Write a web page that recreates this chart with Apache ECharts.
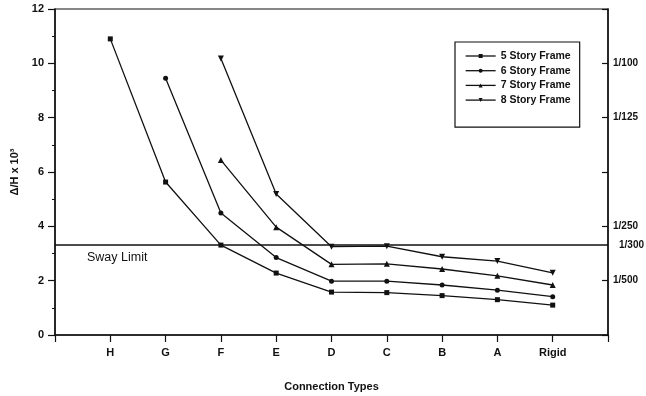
<!DOCTYPE html>
<html>
<head>
<meta charset="utf-8">
<script src="https://cdn.jsdelivr.net/npm/echarts@6/dist/echarts.min.js"></script>
<style>
  html, body { margin: 0; padding: 0; background: #fff; }
  #chart { width: 646px; height: 396px; }
</style>
</head>
<body>
<div id="chart"></div>
<script>
// Connection types along the x axis; blank slots pad both ends of the frame
const categories = ['', 'H', 'G', 'F', 'E', 'D', 'C', 'B', 'A', 'Rigid', ''];

// Drift ratio (Δ/H x 10^3) for each frame height
const story5 = [null, 10.9, 5.63, 3.31, 2.28, 1.58, 1.56, 1.45, 1.3, 1.1, null];
const story6 = [null, null, 9.45, 4.49, 2.85, 1.98, 1.98, 1.84, 1.65, 1.41, null];
const story7 = [null, null, null, 6.44, 3.97, 2.6, 2.62, 2.43, 2.18, 1.84, null];
const story8 = [null, null, null, 10.18, 5.19, 3.25, 3.27, 2.88, 2.72, 2.29, null];

// Sway limit and the drift ratios marked on the right-hand axis
const swayLimit = 3.31;
const rightTickLabels = { 2: '1/500', 4: '1/250', 8: '1/125', 10: '1/100' };

const FONT = '"Liberation Sans", Arial, sans-serif';
const INK = '#111';

function frameSeries(name, data, symbol, size, rotate) {
  return {
    name: name,
    type: 'line',
    data: data,
    symbol: symbol,
    symbolSize: size,
    symbolRotate: rotate || 0,
    connectNulls: false,
    lineStyle: { color: INK, width: 1.3 },
    itemStyle: { color: INK },
    z: 3
  };
}

const series = [
  frameSeries('5 Story Frame', story5, 'rect', 5),
  frameSeries('6 Story Frame', story6, 'circle', 5),
  frameSeries('7 Story Frame', story7, 'triangle', 6),
  frameSeries('8 Story Frame', story8, 'triangle', 6, 180)
];

// Sway limit drawn as a mark line on the first series
series[0].markLine = {
  silent: true,
  symbol: 'none',
  animation: false,
  lineStyle: { color: INK, width: 1.5, type: 'solid' },
  data: [
    {
      yAxis: swayLimit,
      label: {
        show: true, position: 'insideStartBottom', formatter: 'Sway Limit',
        color: INK, fontFamily: FONT, fontSize: 12.5, distance: [32, 6]
      }
    },
    {
      yAxis: swayLimit,
      lineStyle: { color: 'rgba(0,0,0,0)', width: 0 },
      label: {
        show: true, position: 'end', formatter: '1/300',
        color: INK, fontFamily: FONT, fontSize: 10, fontWeight: 'bold', distance: 11,
        padding: [6, 0, 0, 0]
      }
    }
  ]
};

const chart = echarts.init(document.getElementById('chart'), null, { renderer: 'canvas' });
chart.setOption({
  animation: false,
  backgroundColor: '#fff',
  grid: {
    left: 55, right: 38, top: 9, bottom: 61,
    outerBoundsMode: 'none',
    containLabel: false,
    show: true, borderColor: INK, borderWidth: 1.2, backgroundColor: 'transparent'
  },
  legend: {
    orient: 'vertical',
    left: 455, top: 42,
    padding: [8, 9, 21, 10],
    itemGap: 2.7,
    itemWidth: 30,
    itemHeight: 5,
    borderColor: INK,
    borderWidth: 1.2,
    lineStyle: { width: 1.3 },
    textStyle: { color: INK, fontFamily: FONT, fontSize: 10.5, fontWeight: 'bold', lineHeight: 12 },
    data: series.map(s => s.name)
  },
  xAxis: {
    type: 'category',
    data: categories,
    boundaryGap: false,
    name: 'Connection Types',
    nameLocation: 'middle',
    nameGap: 46,
    nameTextStyle: { color: INK, fontFamily: FONT, fontSize: 11, fontWeight: 'bold' },
    axisLine: { lineStyle: { color: INK, width: 1.5 } },
    axisTick: { show: true, inside: false, length: 7, interval: 0, lineStyle: { color: INK, width: 1.2 } },
    axisLabel: { color: INK, fontFamily: FONT, fontSize: 11, fontWeight: 'bold', margin: 12, interval: 0 },
    splitLine: { show: false }
  },
  yAxis: [
    {
      type: 'value',
      min: 0, max: 12, interval: 2,
      name: 'Δ/H x 10³',
      nameLocation: 'middle',
      nameGap: 34,
      nameTextStyle: { color: INK, fontFamily: FONT, fontSize: 11, fontWeight: 'bold' },
      axisLine: { show: true, lineStyle: { color: INK, width: 1.5 } },
      axisTick: { show: true, inside: false, length: 7, lineStyle: { color: INK, width: 1.2 } },
      minorTick: { show: true, splitNumber: 2, length: 3, lineStyle: { color: INK, width: 1 } },
      axisLabel: { color: INK, fontFamily: FONT, fontSize: 11, fontWeight: 'bold', margin: 11 },
      splitLine: { show: false }
    },
    {
      type: 'value',
      position: 'right',
      min: 0, max: 12, interval: 2,
      axisLine: { show: true, lineStyle: { color: INK, width: 1.5 } },
      axisTick: { show: true, inside: true, length: 6, lineStyle: { color: INK, width: 1.2 } },
      axisLabel: {
        color: INK, fontFamily: FONT, fontSize: 10, fontWeight: 'bold', margin: 5,
        formatter: v => rightTickLabels[v] || ''
      },
      splitLine: { show: false }
    }
  ],
  series: series
});
</script>
</body>
</html>
